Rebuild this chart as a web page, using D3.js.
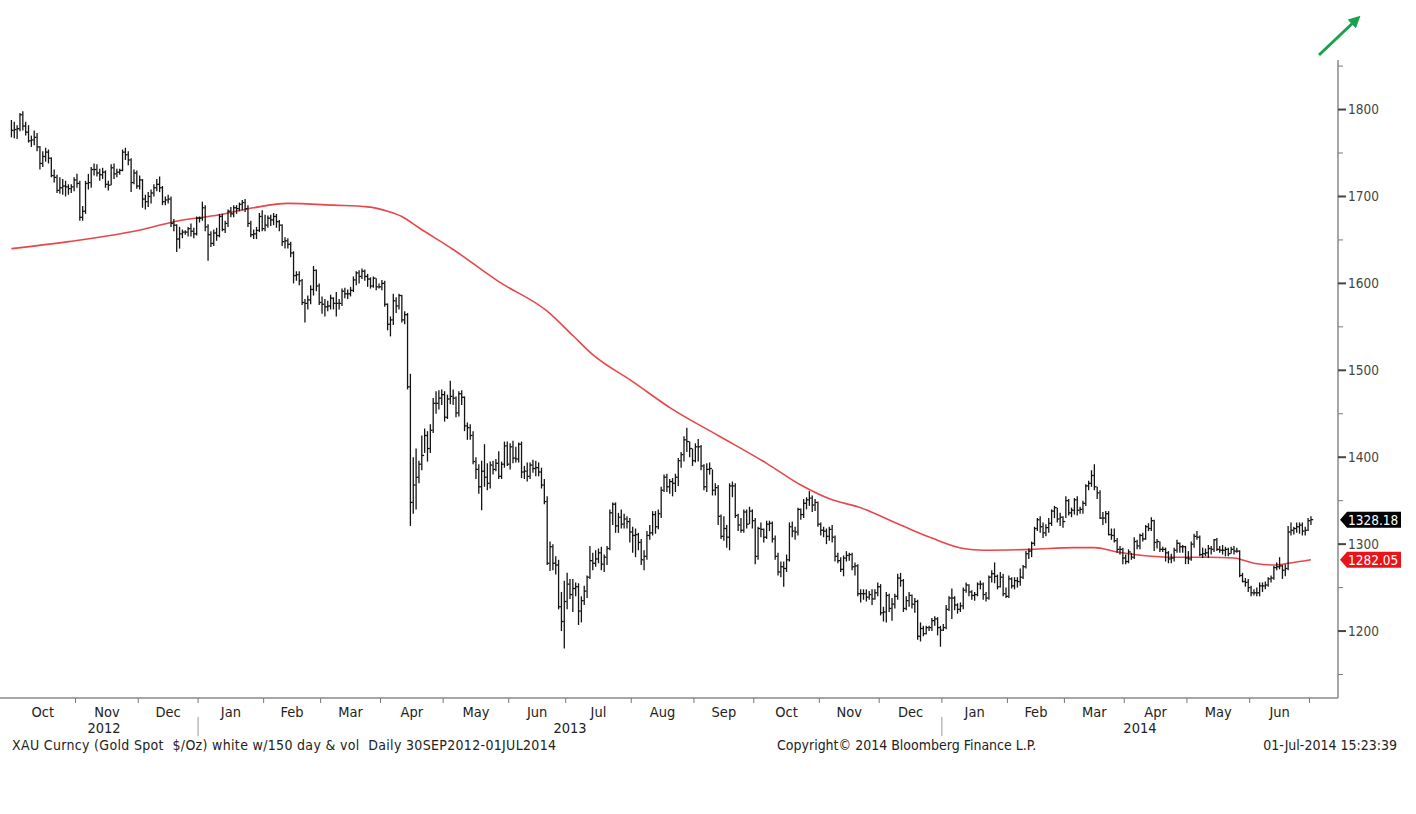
<!DOCTYPE html>
<html><head><meta charset="utf-8">
<script src="https://cdn.jsdelivr.net/npm/d3@7"></script>
<style>
body{margin:0;background:#fff;}
text{font-family:"DejaVu Sans Condensed","DejaVu Sans",sans-serif;font-stretch:condensed;}
</style>
</head><body>
<svg id="c" width="1416" height="814"></svg>
<script>
// ---------------- DATA ----------------
const firstDay = "2012-10-01", lastDay = "2014-07-01";   // daily, weekdays
const highs = [
 1788,1786,1782,1796,1798,1786,1782,1770,1776,1773,1758,1752,1756,1754,1745,1731,1725,1722,1720,1718,1714,1714,1722, // Oct 12
 1726,1718,1689,1718,1726,1734,1738,1737,1732,1733,1730,1718,1737,1738,1732,1732,1754,1756,1752,1744,1731,1730, // Nov
 1724,1720,1702,1705,1708,1714,1720,1723,1712,1700,1702,1700,1674,1668,1665,1662,1661,1665,1669,1664,1677, // Dec
 1677,1694,1690,1668,1660,1662,1664,1680,1680,1672,1685,1688,1690,1690,1693,1696,1697,1690,1672,1662,1665,1681,1684, // Jan 13
 1679,1678,1679,1681,1680,1673,1668,1653,1652,1648,1637,1614,1614,1605,1582,1586,1598,1620,1616,1600, // Feb
 1585,1582,1580,1587,1584,1590,1582,1594,1595,1593,1596,1608,1614,1615,1617,1616,1611,1607,1608,1606,1600, // Mar
 1604,1603,1577,1562,1588,1584,1588,1587,1568,1566,1496,1400,1410,1396,1425,1433,1430,1438,1468,1476,1477,1478, // Apr
 1476,1472,1488,1478,1470,1476,1477,1470,1440,1438,1430,1400,1392,1396,1415,1393,1395,1396,1398,1407,1395,1418,1418, // May
 1416,1419,1412,1417,1418,1390,1394,1394,1397,1396,1394,1388,1375,1355,1303,1300,1286,1282,1245,1258, // Jun
 1267,1260,1260,1256,1255,1240,1252,1264,1298,1290,1293,1295,1297,1288,1298,1340,1348,1348,1336,1340,1335,1332,1330, // Jul
 1320,1318,1313,1306,1293,1315,1322,1338,1338,1340,1366,1380,1381,1375,1376,1381,1399,1406,1424,1434,1418,1410, // Aug
 1416,1421,1414,1392,1393,1394,1386,1370,1368,1334,1332,1322,1370,1372,1370,1335,1330,1340,1340,1343,1340, // Sep
 1330,1320,1325,1318,1327,1327,1326,1310,1290,1280,1280,1288,1325,1326,1320,1342,1341,1352,1354,1361,1356,1352,1349, // Oct
 1325,1320,1318,1320,1322,1310,1290,1285,1287,1292,1290,1290,1279,1277,1248,1248,1248,1246,1248,1248,1256, // Nov
 1254,1228,1245,1243,1238,1243,1266,1267,1260,1240,1245,1242,1238,1236,1210,1206,1206,1206,1215,1217,1216,1206, // Dec
 1208,1230,1240,1249,1240,1232,1233,1250,1256,1254,1247,1245,1256,1258,1256,1245,1264,1270,1279,1265,1268,1266,1250, // Jan 14
 1264,1262,1262,1262,1272,1276,1292,1295,1303,1320,1330,1332,1325,1323,1330,1340,1344,1342,1336,1332, // Feb
 1355,1352,1342,1353,1355,1343,1350,1369,1373,1385,1392,1366,1362,1337,1338,1338,1318,1318,1307,1298,1296, // Mar
 1288,1294,1290,1308,1305,1312,1313,1322,1324,1331,1328,1306,1303,1297,1296,1292,1289,1296,1305,1302,1299,1298, // Apr
 1292,1303,1312,1315,1310,1296,1295,1299,1298,1306,1307,1298,1299,1297,1296,1297,1298,1296,1293,1267,1261,1260, // May
 1252,1248,1250,1256,1256,1257,1262,1264,1275,1279,1285,1276,1277,1321,1325,1320,1325,1325,1325,1320,1330, // Jun
 1332 // Jul 1
];
const lows = [
 1768,1767,1766,1775,1776,1770,1762,1757,1759,1752,1731,1734,1740,1738,1722,1716,1704,1703,1702,1700,1702,1704,1706,
 1710,1672,1672,1680,1708,1710,1724,1723,1718,1720,1710,1707,1713,1720,1722,1725,1729,1742,1736,1705,1714,1709,
 1708,1687,1685,1688,1692,1700,1706,1705,1690,1690,1692,1665,1660,1636,1640,1652,1656,1654,1654,1652,1655,
 1670,1672,1660,1626,1642,1643,1649,1653,1660,1658,1665,1676,1676,1680,1683,1684,1682,1665,1653,1651,1651,1659,1660,
 1660,1664,1666,1667,1664,1660,1643,1640,1640,1630,1600,1603,1598,1575,1555,1570,1576,1586,1591,1575,
 1565,1562,1568,1570,1570,1562,1570,1574,1583,1582,1585,1590,1598,1600,1605,1603,1596,1594,1595,1592,1594,
 1592,1573,1546,1539,1552,1566,1570,1555,1553,1478,1321,1335,1340,1370,1385,1405,1395,1405,1428,1450,1455,1460,
 1441,1444,1461,1460,1446,1447,1460,1430,1420,1420,1392,1375,1358,1339,1366,1362,1364,1380,1384,1375,1375,1388,1390,
 1386,1393,1394,1394,1376,1375,1372,1375,1382,1378,1378,1364,1346,1276,1269,1270,1265,1225,1200,1180,
 1225,1237,1222,1240,1207,1210,1230,1238,1260,1270,1274,1278,1270,1268,1276,1293,1322,1313,1313,1318,1318,1318,1302,
 1290,1285,1293,1276,1270,1282,1305,1310,1312,1317,1330,1360,1360,1358,1355,1360,1367,1388,1395,1406,1400,1390,
 1394,1395,1385,1362,1360,1380,1356,1356,1322,1306,1304,1296,1293,1354,1330,1315,1313,1313,1318,1323,1318,
 1277,1282,1308,1302,1306,1315,1302,1282,1264,1262,1251,1268,1280,1308,1305,1310,1328,1330,1340,1344,1337,1338,1320,
 1310,1308,1300,1304,1302,1280,1278,1268,1263,1280,1281,1270,1264,1240,1233,1236,1234,1236,1230,1236,1240,
 1218,1211,1210,1222,1212,1226,1236,1251,1222,1224,1228,1226,1221,1190,1188,1194,1196,1200,1200,1206,1195,1182,
 1200,1202,1223,1214,1224,1220,1222,1225,1244,1240,1236,1235,1240,1248,1236,1234,1236,1256,1255,1248,1250,1240,1238,
 1238,1249,1248,1250,1252,1260,1272,1283,1285,1298,1315,1313,1307,1309,1313,1321,1330,1325,1321,1319,
 1330,1333,1331,1334,1333,1335,1335,1344,1362,1366,1362,1352,1329,1322,1324,1310,1305,1302,1290,1288,1277,
 1277,1278,1282,1283,1294,1294,1303,1305,1315,1315,1292,1295,1291,1291,1280,1278,1278,1280,1290,1290,1290,1277,
 1277,1281,1296,1305,1286,1284,1286,1284,1288,1291,1292,1290,1288,1286,1286,1289,1288,1290,1262,1256,1251,1245,
 1240,1241,1240,1240,1245,1248,1251,1256,1259,1270,1271,1260,1263,1270,1310,1311,1313,1312,1310,1310,1315,
 1322
];
const closes = [
 1776,1777,1778,1794,1781,1774,1764,1765,1768,1757,1738,1746,1751,1744,1724,1722,1707,1710,1712,1711,1709,1711,1719,
 1715,1676,1683,1715,1716,1731,1731,1727,1725,1728,1714,1713,1733,1726,1728,1730,1751,1748,1742,1716,1727,1712,
 1719,1697,1694,1700,1704,1710,1714,1710,1694,1696,1697,1669,1667,1651,1657,1659,1659,1663,1660,1657,1675,
 1675,1687,1665,1656,1646,1658,1655,1677,1662,1669,1683,1680,1687,1686,1691,1693,1686,1669,1656,1657,1661,1677,1663,
 1667,1675,1673,1677,1671,1667,1648,1649,1645,1635,1609,1610,1603,1578,1577,1581,1593,1615,1597,1578,
 1576,1573,1574,1583,1577,1577,1577,1591,1588,1588,1592,1604,1612,1608,1614,1608,1605,1597,1606,1596,1596,
 1600,1576,1553,1558,1580,1574,1586,1558,1564,1481,1348,1368,1377,1392,1402,1425,1410,1431,1462,1462,1468,1472,
 1446,1467,1470,1468,1451,1473,1469,1436,1434,1425,1395,1386,1366,1384,1377,1370,1391,1386,1393,1378,1392,1413,1392,
 1412,1399,1398,1415,1383,1384,1378,1391,1387,1388,1383,1368,1349,1278,1297,1278,1276,1228,1211,1234,
 1254,1242,1249,1251,1223,1235,1246,1262,1281,1278,1283,1290,1277,1285,1295,1336,1346,1321,1331,1323,1329,1326,1314,
 1310,1311,1302,1282,1286,1310,1313,1334,1320,1335,1362,1377,1366,1372,1370,1377,1396,1403,1420,1418,1410,1396,
 1412,1412,1390,1366,1386,1387,1362,1365,1332,1309,1318,1308,1367,1367,1333,1322,1316,1337,1323,1338,1327,
 1286,1318,1317,1308,1323,1324,1306,1286,1268,1274,1272,1282,1320,1315,1314,1340,1334,1347,1351,1353,1345,1348,1323,
 1316,1315,1309,1317,1308,1286,1281,1271,1284,1287,1288,1274,1275,1243,1243,1243,1239,1242,1237,1244,1251,
 1221,1222,1241,1226,1231,1240,1261,1258,1226,1235,1241,1231,1234,1194,1203,1197,1204,1204,1212,1214,1204,1201,
 1204,1225,1238,1238,1230,1225,1229,1247,1253,1245,1241,1242,1254,1254,1242,1238,1262,1266,1263,1251,1262,1243,1240,
 1260,1252,1258,1257,1262,1274,1289,1292,1301,1318,1328,1320,1313,1319,1324,1338,1342,1329,1331,1326,
 1350,1336,1339,1351,1339,1340,1347,1367,1370,1379,1366,1359,1330,1330,1335,1311,1310,1304,1294,1294,1284,
 1280,1291,1285,1303,1298,1310,1306,1320,1318,1327,1302,1303,1294,1294,1290,1283,1284,1293,1301,1297,1297,1284,
 1283,1300,1309,1308,1288,1289,1290,1295,1294,1305,1294,1293,1293,1294,1289,1294,1292,1292,1264,1257,1256,1250,
 1244,1244,1244,1252,1252,1253,1260,1261,1273,1274,1275,1270,1272,1314,1316,1318,1320,1322,1315,1316,1327,
 1328.18
];
// 150-day moving average
const maDates = ["2012-10-01","2012-10-29","2012-12-04","2012-12-19","2013-01-10","2013-01-28","2013-02-13","2013-03-07","2013-03-25","2013-04-03","2013-04-10","2013-04-18","2013-05-06","2013-05-28","2013-06-20","2013-07-03","2013-07-12","2013-08-01","2013-08-21","2013-09-12","2013-10-07","2013-10-23","2013-11-07","2013-11-20","2013-12-11","2013-12-26","2014-01-10","2014-01-21","2014-02-13","2014-03-06","2014-03-17","2014-03-27","2014-04-09","2014-04-24","2014-05-12","2014-05-23","2014-06-03","2014-06-12","2014-06-19","2014-07-01"];
const maValues = [1640,1648,1662,1671,1679,1687,1692,1690,1688,1683,1677,1664,1639,1602,1568,1540,1518,1487,1455,1425,1393,1368,1351,1343,1322,1307,1295,1293,1294,1296,1296,1291,1287,1285,1285,1284,1278,1276,1278,1282.05];
const yMajorTicks = [1200,1300,1400,1500,1600,1700,1800];
const yMinorTicks = [1150,1250,1350,1450,1550,1650,1750,1850];
const monthNames = ["Jan","Feb","Mar","Apr","May","Jun","Jul","Aug","Sep","Oct","Nov","Dec"];
const lastPrice = 1328.18, lastMA = 1282.05;
const footerLeft = "XAU Curncy (Gold Spot  $/Oz) white w/150 day & vol  Daily 30SEP2012-01JUL2014";
const footerMid = "Copyright\u00A9 2014 Bloomberg Finance L.P.";
const footerRight = "01-Jul-2014 15:23:39";

// ---------------- CHART ----------------
const parse = d3.timeParse("%Y-%m-%d"), fmt = d3.timeFormat("%Y-%m-%d");
const days = d3.timeDay.range(parse(firstDay), d3.timeDay.offset(parse(lastDay),1))
  .filter(d => d.getDay()!==0 && d.getDay()!==6);
const idxOf = new Map(days.map((d,i)=>[fmt(d),i]));
const bars = days.map((d,i)=>({d,i,h:highs[i],l:lows[i],c:closes[i]})).filter(b=>b.h!=null);

const svg = d3.select("#c");
const L = 10, R = 1338, T = 60, B = 698;
const x = d3.scaleLinear().domain([0, 466]).range([L, R]);
const y = d3.scaleLinear().domain([1123, 1857]).range([B, T]);

// axes frame
svg.append("line").attr("x1",0).attr("x2",R).attr("y1",B).attr("y2",B)
  .attr("stroke","#8a8a8a").attr("stroke-width",1.5);
svg.append("line").attr("x1",R).attr("x2",R).attr("y1",T).attr("y2",B)
  .attr("stroke","#8a8a8a").attr("stroke-width",1.5);

// y ticks
const ya = svg.append("g");
ya.selectAll("line.maj").data(yMajorTicks).join("line")
  .attr("x1",R).attr("x2",R+8).attr("y1",d=>y(d)).attr("y2",d=>y(d))
  .attr("stroke","#444").attr("stroke-width",2);
ya.selectAll("line.min").data(yMinorTicks).join("line")
  .attr("x1",R).attr("x2",R+5).attr("y1",d=>y(d)).attr("y2",d=>y(d))
  .attr("stroke","#777").attr("stroke-width",1);
ya.selectAll("text").data(yMajorTicks).join("text")
  .attr("x",R+10).attr("y",d=>y(d)).attr("dy","0.36em")
  .attr("font-size",13.5).attr("fill","#444").text(d=>d);

// month ticks and labels
const monthStarts = [];
days.forEach((d,i)=>{ if(i===0 || d.getMonth()!==days[i-1].getMonth()) monthStarts.push(i); });
const xa = svg.append("g");
monthStarts.forEach((s,k)=>{
  if (s>0) xa.append("line").attr("x1",x(s)).attr("x2",x(s)).attr("y1",B).attr("y2",B+5)
     .attr("stroke","#777").attr("stroke-width",1);
  const e = k+1<monthStarts.length ? monthStarts[k+1] : days.length;
  if (e - s >= 5) xa.append("text").attr("x",(x(s)+x(e))/2).attr("y",B+19)
     .attr("text-anchor","middle").attr("font-size",14.5).attr("fill","#222")
     .text(monthNames[days[s].getMonth()]);
});
// years
const yearStarts = monthStarts.filter(i=>i===0 || days[i].getMonth()===0);
yearStarts.forEach((s,k)=>{
  if (s>0) xa.append("line").attr("x1",x(s)).attr("x2",x(s)).attr("y1",B+19).attr("y2",B+38)
     .attr("stroke","#999").attr("stroke-width",1);
  const e = k+1<yearStarts.length ? x(yearStarts[k+1]) : R;
  xa.append("text").attr("x",(x(s)+e)/2).attr("y",B+35).attr("text-anchor","middle")
     .attr("font-size",14.5).attr("fill","#222").text(days[s].getFullYear());
});

// moving average
const maPts = maDates.map((d,k)=>({i:idxOf.get(d), v:maValues[k]}));
svg.append("path").datum(maPts)
  .attr("d", d3.line().x(p=>x(p.i+0.5)).y(p=>y(p.v)).curve(d3.curveMonotoneX))
  .attr("fill","none").attr("stroke","#e8474a").attr("stroke-width",1.6);

// price bars (high-low with close tick)
const g = svg.append("g").attr("stroke","#141414").attr("stroke-width",1.3);
g.selectAll("line.hl").data(bars).join("line")
  .attr("x1",b=>x(b.i+0.5)).attr("x2",b=>x(b.i+0.5))
  .attr("y1",b=>y(b.h)).attr("y2",b=>y(b.l));
g.selectAll("line.cl").data(bars).join("line")
  .attr("x1",b=>x(b.i+0.5)).attr("x2",b=>x(b.i+0.5)+2.3)
  .attr("y1",b=>y(b.c)).attr("y2",b=>y(b.c));

// last value tags
function tag(v, fill){
  const yy = y(v);
  svg.append("path").attr("d",`M${R+2},${yy} L${R+9},${yy-8} L${R+63},${yy-8} L${R+63},${yy+8} L${R+9},${yy+8} Z`)
    .attr("fill",fill);
  svg.append("text").attr("x",R+10).attr("y",yy).attr("dy","0.36em").attr("font-size",13.5)
    .attr("fill","#fff").text(v.toFixed(2));
}
tag(lastPrice,"#000");
tag(lastMA,"#e8141a");

// footer
svg.append("text").attr("x",12).attr("y",B+52).attr("font-size",14).attr("fill","#222")
  .attr("textLength",544).attr("lengthAdjust","spacing")
  .style("white-space","pre").text(footerLeft);
svg.append("text").attr("x",777).attr("y",B+52).attr("font-size",14).attr("fill","#222").text(footerMid);
svg.append("text").attr("x",1397).attr("y",B+52).attr("text-anchor","end").attr("font-size",14).attr("fill","#222").text(footerRight);

// green annotation arrow
const defs = svg.append("defs");
defs.append("marker").attr("id","ah").attr("viewBox","0 0 10 10").attr("refX",6).attr("refY",5)
  .attr("markerWidth",4).attr("markerHeight",4).attr("orient","auto")
  .append("path").attr("d","M0,0 L10,5 L0,10 Z").attr("fill","#17a34a");
svg.append("line").attr("x1",1319).attr("y1",55).attr("x2",1357).attr("y2",19)
  .attr("stroke","#17a34a").attr("stroke-width",3).attr("marker-end","url(#ah)");
</script>
</body></html>
